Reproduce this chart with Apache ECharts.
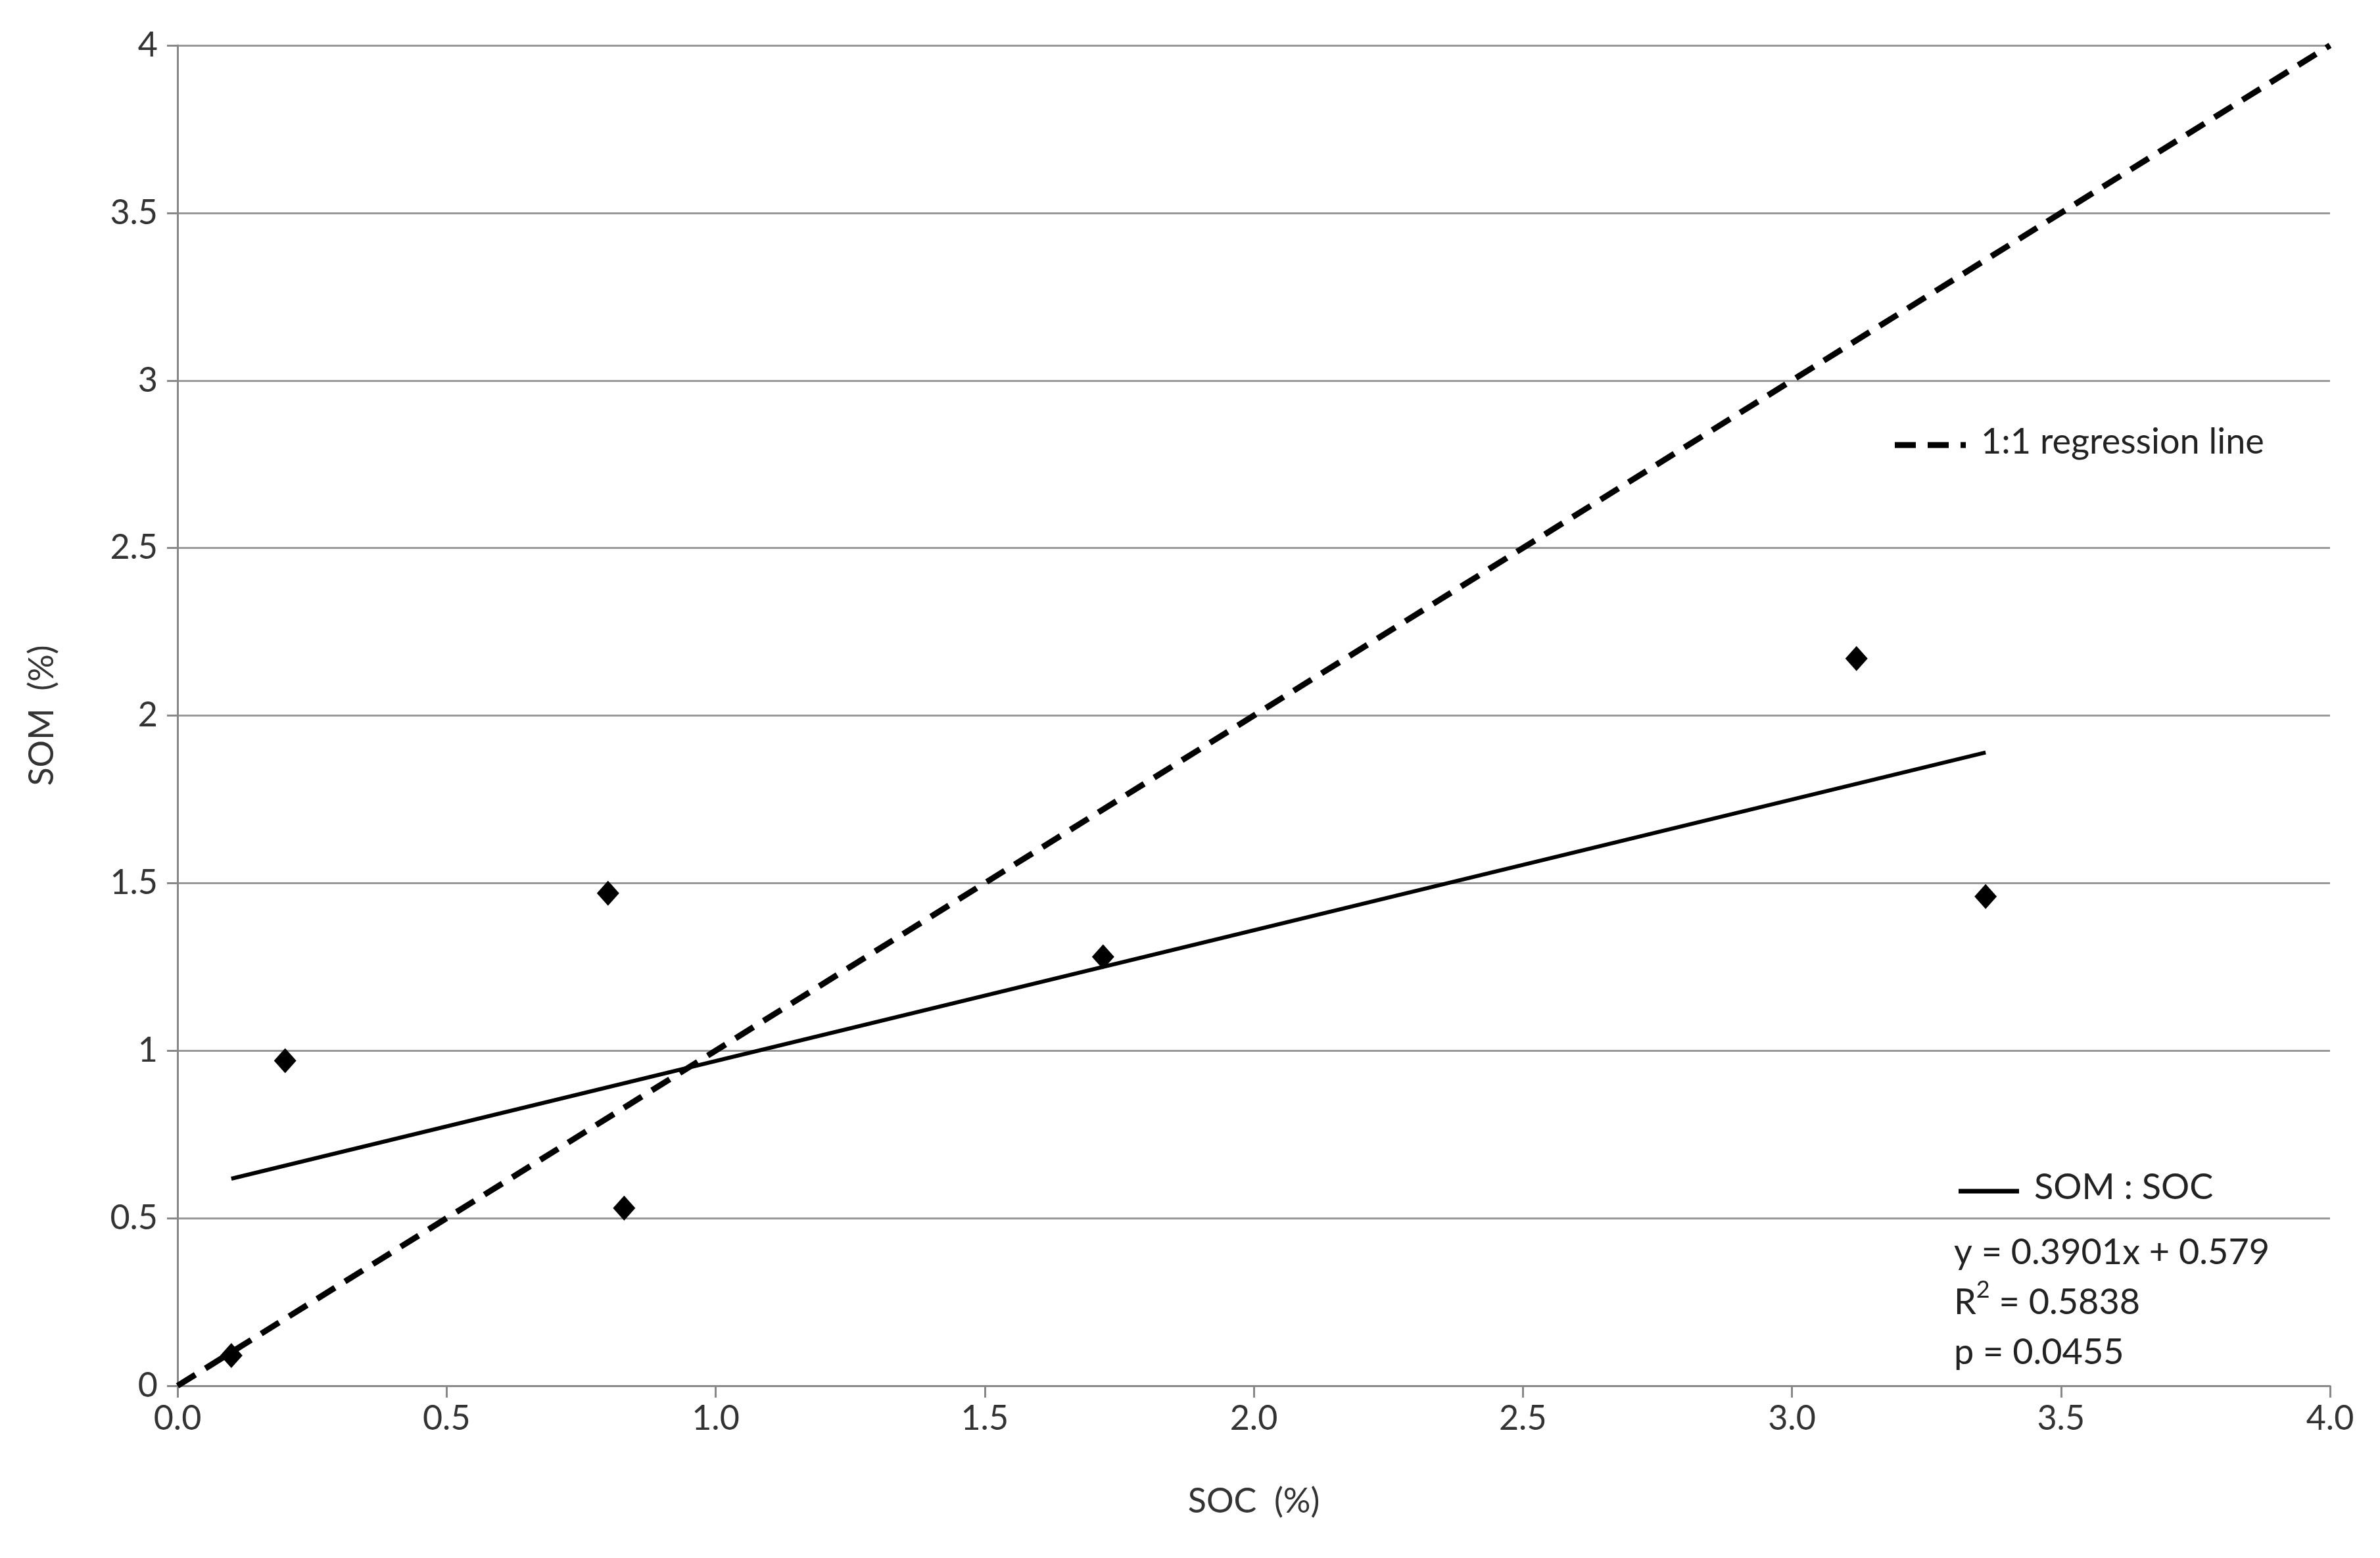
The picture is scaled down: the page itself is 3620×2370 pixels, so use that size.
<!DOCTYPE html>
<html><head><meta charset="utf-8">
<script src="https://cdn.jsdelivr.net/npm/echarts@6/dist/echarts.min.js"></script>
<style>html,body{margin:0;padding:0;background:#fff}#c{width:3620px;height:2370px}</style>
</head><body><div id="c"></div>
<script>
const socValues = [0.1, 0.2, 0.8, 0.83, 1.72, 3.12, 3.36];
const somValues = [0.09, 0.97, 1.47, 0.53, 1.28, 2.17, 1.46];
const oneToOne = [[0, 0], [4, 4]];
const slope = 0.3901, intercept = 0.579;
const fitX = [0.1, 3.36];
const xTicks = ['0.0','0.5','1.0','1.5','2.0','2.5','3.0','3.5','4.0'];
const yTicks = ['0','0.5','1','1.5','2','2.5','3','3.5','4'];

const F = 'Lato, "Open Sans", sans-serif';
const chart = echarts.init(document.getElementById('c'));
chart.setOption({
  backgroundColor: '#fff',
  animation: false,
  grid: {left: 270, right: 76, top: 69, bottom: 262},
  xAxis: {
    type: 'value', min: 0, max: 4, interval: 0.5,
    name: 'SOC  (%)', nameLocation: 'middle', nameGap: 150,
    nameTextStyle: {fontFamily: F, fontSize: 52, color: '#333'},
    axisLine: {lineStyle: {color: '#888', width: 3}},
    axisTick: {show: true, length: 18, lineStyle: {color: '#888', width: 3}},
    axisLabel: {fontFamily: F, fontSize: 52, color: '#333', margin: 24,
      formatter: v => xTicks[Math.round(v / 0.5)]},
    splitLine: {show: false}
  },
  yAxis: {
    type: 'value', min: 0, max: 4, interval: 0.5,
    name: 'SOM  (%)', nameLocation: 'middle', nameGap: 180, nameRotate: 90,
    nameTextStyle: {fontFamily: F, fontSize: 52, color: '#333'},
    axisLine: {show: true, lineStyle: {color: '#888', width: 3}},
    axisTick: {show: true, length: 16, lineStyle: {color: '#888', width: 3}},
    axisLabel: {fontFamily: F, fontSize: 52, color: '#333', margin: 30,
      formatter: v => yTicks[Math.round(v / 0.5)]},
    splitLine: {show: true, lineStyle: {color: '#999', width: 3}}
  },
  series: [
    {type: 'line', data: oneToOne, symbol: 'none',
      lineStyle: {color: '#000', width: 9, type: [32, 18]}},
    {type: 'line', data: fitX.map(x => [x, slope * x + intercept]), symbol: 'none',
      lineStyle: {color: '#000', width: 6}},
    {type: 'scatter', z: 5, data: socValues.map((x, i) => [x, somValues[i]]),
      symbol: 'diamond', symbolSize: [34, 38], itemStyle: {color: '#000', opacity: 1}}
  ],
  graphic: [
    {type: 'line', shape: {x1: 2882, y1: 677, x2: 2990, y2: 677},
      style: {stroke: '#000', lineWidth: 9, lineDash: [32, 18]}},
    {type: 'text', left: 3013, top: 646,
      style: {text: '1:1 regression line', font: '54px ' + F, fill: '#222'}},
    {type: 'line', shape: {x1: 2979, y1: 1812, x2: 3071, y2: 1812},
      style: {stroke: '#000', lineWidth: 7}},
    {type: 'text', left: 3094, top: 1780,
      style: {text: 'SOM : SOC', font: '54px ' + F, fill: '#222'}},
    {type: 'text', left: 2972, top: 1868,
      style: {text: 'y = 0.3901x + 0.579\n{r|R}{s|2}{r| = 0.5838}\np = 0.0455',
        font: '54px ' + F, fill: '#222', lineHeight: 76,
        rich: {r: {font: '54px ' + F, fill: '#222'}, s: {font: '36px ' + F, fill: '#222', verticalAlign: 'top', padding: [0,0,22,0]}}}}
  ]
});
</script></body></html>
